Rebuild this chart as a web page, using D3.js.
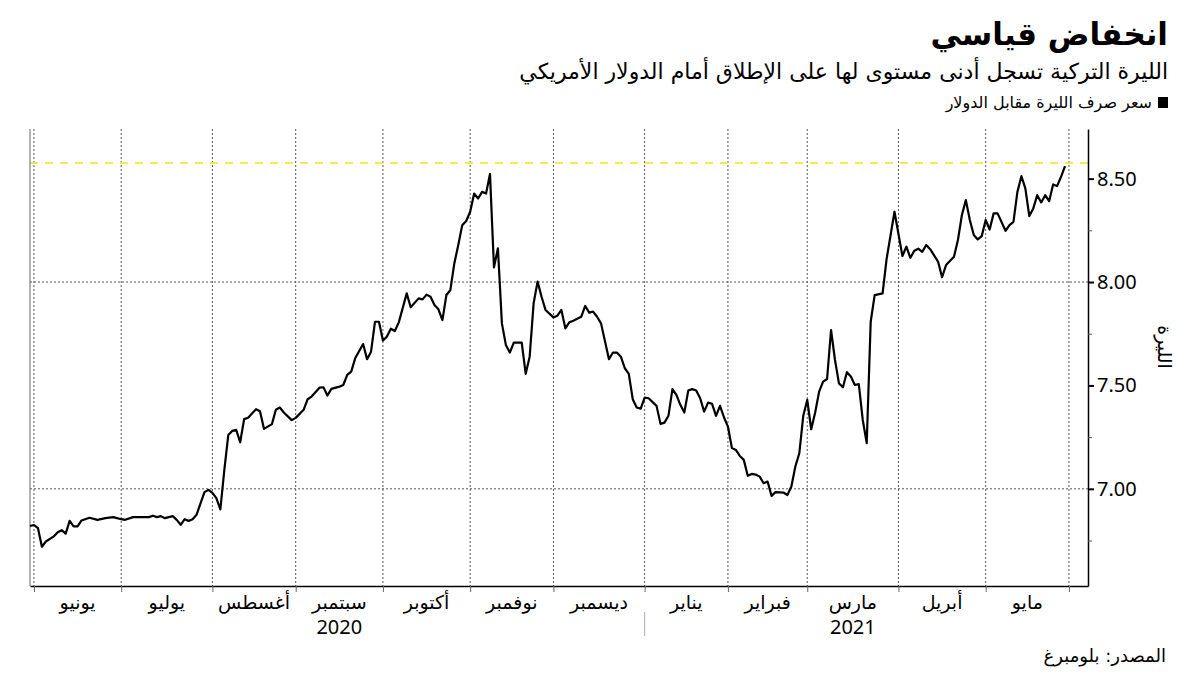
<!DOCTYPE html>
<html>
<head>
<meta charset="utf-8">
<script src="https://cdn.jsdelivr.net/npm/d3@7"></script>
<style>
body{margin:0;background:#fff;}
svg{display:block;}
text{font-family:"DejaVu Sans",sans-serif;fill:#000;}
.num{font-family:"Noto Sans",sans-serif;}
</style>
</head>
<body>
<svg id="chart" width="1200" height="675"></svg>
<script>
// lira per dollar, trading days (vertices)
var dates = [
 "2020-05-29",
 "2020-06-01","2020-06-02","2020-06-03","2020-06-04","2020-06-08","2020-06-09","2020-06-10","2020-06-11","2020-06-12","2020-06-15","2020-06-16","2020-06-17","2020-06-19","2020-06-23","2020-06-25","2020-06-29",
 "2020-07-01","2020-07-02","2020-07-06","2020-07-10","2020-07-13","2020-07-14","2020-07-15","2020-07-16","2020-07-20","2020-07-21","2020-07-22","2020-07-23","2020-07-24","2020-07-27","2020-07-28","2020-07-29","2020-07-30","2020-07-31",
 "2020-08-03","2020-08-04","2020-08-05","2020-08-06","2020-08-07","2020-08-10","2020-08-11","2020-08-12","2020-08-13","2020-08-14","2020-08-18","2020-08-19","2020-08-20","2020-08-24","2020-08-25","2020-08-26","2020-08-27","2020-08-31",
 "2020-09-01","2020-09-03","2020-09-04","2020-09-07","2020-09-09","2020-09-10","2020-09-11","2020-09-14","2020-09-16","2020-09-17","2020-09-18","2020-09-21","2020-09-22","2020-09-24","2020-09-25","2020-09-28","2020-09-29","2020-09-30",
 "2020-10-01","2020-10-02","2020-10-05","2020-10-06","2020-10-07","2020-10-09","2020-10-12","2020-10-14","2020-10-15","2020-10-16","2020-10-19","2020-10-20","2020-10-21","2020-10-22","2020-10-23","2020-10-26","2020-10-27","2020-10-28","2020-10-29","2020-10-30",
 "2020-11-02","2020-11-03","2020-11-04","2020-11-05","2020-11-06","2020-11-09","2020-11-10","2020-11-11","2020-11-12","2020-11-13","2020-11-16","2020-11-17","2020-11-19","2020-11-20","2020-11-23","2020-11-24","2020-11-25","2020-11-26","2020-11-27",
 "2020-12-01","2020-12-02","2020-12-03","2020-12-04","2020-12-07","2020-12-08","2020-12-10","2020-12-11","2020-12-14","2020-12-15","2020-12-16","2020-12-17","2020-12-21","2020-12-22","2020-12-23","2020-12-24","2020-12-25","2020-12-28","2020-12-29","2020-12-30","2020-12-31",
 "2021-01-01","2021-01-04","2021-01-06","2021-01-07","2021-01-08","2021-01-11","2021-01-12","2021-01-13","2021-01-14","2021-01-15","2021-01-18","2021-01-19","2021-01-20","2021-01-21","2021-01-22","2021-01-25","2021-01-26","2021-01-27","2021-01-28","2021-01-29",
 "2021-02-01","2021-02-02","2021-02-03","2021-02-04","2021-02-05","2021-02-08","2021-02-09","2021-02-10","2021-02-11","2021-02-12","2021-02-15","2021-02-16","2021-02-17","2021-02-19","2021-02-22","2021-02-23","2021-02-24","2021-02-25","2021-02-26",
 "2021-03-01","2021-03-02","2021-03-03","2021-03-04","2021-03-05","2021-03-08","2021-03-09","2021-03-10","2021-03-11","2021-03-12","2021-03-15","2021-03-16","2021-03-17","2021-03-18","2021-03-19","2021-03-22","2021-03-23","2021-03-24","2021-03-26","2021-03-29","2021-03-31",
 "2021-04-02","2021-04-05","2021-04-06","2021-04-07","2021-04-08","2021-04-09","2021-04-12","2021-04-13","2021-04-15","2021-04-16","2021-04-19","2021-04-21","2021-04-22","2021-04-23","2021-04-26","2021-04-27","2021-04-28","2021-04-29","2021-04-30",
 "2021-05-03","2021-05-04","2021-05-05","2021-05-06","2021-05-10","2021-05-11","2021-05-12","2021-05-13","2021-05-14","2021-05-17","2021-05-18","2021-05-19","2021-05-20","2021-05-21","2021-05-24","2021-05-25","2021-05-26","2021-05-27","2021-05-28","2021-05-31"
];
var rates = [
 6.82,
 6.825,6.81,6.72,6.745,6.77,6.79,6.80,6.783,6.845,6.818,6.818,6.847,6.86,6.85,6.858,6.863,
 6.853,6.85,6.863,6.863,6.87,6.863,6.868,6.858,6.868,6.85,6.826,6.853,6.845,6.853,6.874,6.93,6.984,6.995,
 6.98,6.955,6.90,7.09,7.26,7.28,7.285,7.225,7.337,7.344,7.385,7.375,7.29,7.313,7.382,7.393,7.369,7.332,
 7.343,7.382,7.433,7.446,7.489,7.491,7.451,7.483,7.494,7.502,7.551,7.567,7.631,7.70,7.627,7.663,7.808,7.808,
 7.717,7.736,7.774,7.763,7.805,7.945,7.878,7.921,7.916,7.939,7.929,7.889,7.868,7.816,7.937,7.961,8.09,8.179,8.275,8.295,
 8.34,8.428,8.404,8.436,8.428,8.522,8.071,8.163,7.80,7.696,7.659,7.707,7.707,7.556,7.639,7.897,8.002,7.929,7.865,
 7.829,7.837,7.865,7.776,7.805,7.813,7.832,7.885,7.852,7.857,7.832,7.80,7.627,7.659,7.659,7.639,7.583,7.556,7.433,7.393,7.388,
 7.441,7.438,7.401,7.314,7.32,7.353,7.482,7.454,7.406,7.369,7.475,7.482,7.475,7.438,7.373,7.417,7.411,7.353,7.401,7.346,
 7.301,7.197,7.188,7.159,7.14,7.063,7.072,7.069,7.059,7.027,7.035,6.966,6.984,6.982,6.97,7.011,7.108,7.172,7.353,
 7.43,7.288,7.369,7.47,7.518,7.531,7.768,7.623,7.51,7.491,7.564,7.543,7.502,7.506,7.333,7.221,7.808,7.937,7.945,8.11,8.34,
 8.126,8.171,8.117,8.151,8.161,8.146,8.179,8.159,8.098,8.023,8.082,8.122,8.203,8.324,8.396,8.30,8.227,8.206,8.222,
 8.30,8.254,8.332,8.332,8.248,8.275,8.291,8.436,8.512,8.453,8.319,8.356,8.42,8.385,8.42,8.391,8.472,8.464,8.509,8.56
];
var monthNames = ["يونيو","يوليو","أغسطس","سبتمبر","أكتوبر","نوفمبر","ديسمبر","يناير","فبراير","مارس","أبريل","مايو"];
var yearLabels = ["2020","2021"];
var yearMonth = [3, 9];      // month label each year sits under
var majorTicks = [7.0, 7.5, 8.0, 8.5];
var minorTicks = [6.75, 7.25, 7.75, 8.25];
var gridValues = [7.0, 8.0];
var recordLevel = 8.575;

var svg = d3.select("#chart");
var parse = d3.timeParse("%Y-%m-%d");
var start = parse(dates[0]);

// x axis counts weekdays only
function tradeIndex(d){
	return d3.timeDay.range(start, d).filter(function(t){ return t.getDay() % 6 !== 0; }).length;
}
var data = dates.map(function(s, i){ return {i: tradeIndex(parse(s)), v: rates[i]}; });

var monthStarts = d3.timeMonth.range(new Date(2020,5,1), new Date(2021,6,1)).map(function(m){
	var d = m;
	while(d.getDay() % 6 === 0){ d = d3.timeDay.offset(d, 1); }
	return tradeIndex(d);
});

var plotLeft = 30, plotRight = 1088, plotTop = 129, plotBottom = 586;
var x = d3.scaleLinear().domain([0, 266.8]).range([plotLeft, plotRight]);
var y = d3.scaleLinear().domain([6.53, 8.74]).range([plotBottom, plotTop]);

// grid
svg.selectAll(".hgrid").data(gridValues).enter().append("line")
	.attr("x1", plotLeft).attr("x2", plotRight)
	.attr("y1", function(d){ return y(d); }).attr("y2", function(d){ return y(d); })
	.attr("stroke", "#555").attr("stroke-width", 1).attr("stroke-dasharray", "2,2");
svg.selectAll(".vgrid").data(monthStarts).enter().append("line")
	.attr("x1", function(d){ return x(d); }).attr("x2", function(d){ return x(d); })
	.attr("y1", plotTop).attr("y2", plotBottom)
	.attr("stroke", "#555").attr("stroke-width", 1).attr("stroke-dasharray", "2,2");

// record level
svg.append("line")
	.attr("x1", plotLeft).attr("x2", plotRight)
	.attr("y1", y(recordLevel)).attr("y2", y(recordLevel))
	.attr("stroke", "#f3e21a").attr("stroke-width", 1.5).attr("stroke-dasharray", "8,7");

// left frame line
svg.append("line").attr("x1", plotLeft).attr("x2", plotLeft).attr("y1", plotTop).attr("y2", plotBottom)
	.attr("stroke", "#666").attr("stroke-width", 1);

// x axis
var xAxis = svg.append("g").attr("transform", "translate(0," + plotBottom + ")")
	.call(d3.axisBottom(x).tickValues(monthStarts).tickFormat("").tickSize(6).tickSizeOuter(0));
xAxis.select(".domain").attr("stroke", "#000").attr("stroke-width", 1.5);
xAxis.selectAll(".tick line").attr("stroke", "#666");

svg.selectAll(".month").data(monthNames).enter().append("text")
	.attr("x", function(d, i){ return (x(monthStarts[i]) + x(monthStarts[i+1])) / 2; })
	.attr("y", 609)
	.attr("text-anchor", "middle")
	.attr("font-size", 19)
	.text(function(d){ return d; });

svg.selectAll(".year").data(yearLabels).enter().append("text")
	.attr("class", "num")
	.attr("x", function(d, i){ var m = yearMonth[i]; return (x(monthStarts[m]) + x(monthStarts[m+1])) / 2; })
	.attr("y", 634)
	.attr("text-anchor", "middle")
	.attr("font-size", 20)
	.text(function(d){ return d; });

// year separator
svg.append("line")
	.attr("x1", x(monthStarts[7])).attr("x2", x(monthStarts[7]))
	.attr("y1", 612).attr("y2", 636)
	.attr("stroke", "#aaa").attr("stroke-width", 1);

// y axis on the right
var yAxis = svg.append("g").attr("transform", "translate(" + plotRight + ",0)")
	.call(d3.axisRight(y).tickValues(majorTicks).tickFormat(d3.format(".2f")).tickSize(6).tickPadding(3).tickSizeOuter(0));
yAxis.select(".domain").attr("stroke", "#000").attr("stroke-width", 1.5);
yAxis.selectAll(".tick line").attr("stroke", "#000").attr("stroke-width", 2);
yAxis.selectAll(".tick text").attr("class", "num").attr("font-size", 20).attr("fill", "#000");
var yMinor = svg.append("g").attr("transform", "translate(" + plotRight + ",0)")
	.call(d3.axisRight(y).tickValues(minorTicks).tickFormat("").tickSize(4));
yMinor.select(".domain").remove();
yMinor.selectAll(".tick line").attr("stroke", "#555");

svg.append("text")
	.attr("transform", "translate(1163,347) rotate(90)")
	.attr("text-anchor", "middle")
	.attr("dominant-baseline", "middle")
	.attr("font-size", 19)
	.text("الليرة");

// the line
var line = d3.line().x(function(d){ return x(d.i); }).y(function(d){ return y(d.v); });
svg.append("path").datum(data)
	.attr("d", line)
	.attr("fill", "none")
	.attr("stroke", "#000")
	.attr("stroke-width", 2.2)
	.attr("stroke-linejoin", "round");

// headings
svg.append("text").attr("x", 1168).attr("y", 45).attr("text-anchor", "end")
	.attr("font-size", 31).attr("font-weight", "bold")
	.text("انخفاض قياسي");
svg.append("text").attr("x", 1168).attr("y", 79).attr("text-anchor", "end")
	.attr("font-size", 22)
	.text("الليرة التركية تسجل أدنى مستوى لها على الإطلاق أمام الدولار الأمريكي");
svg.append("rect").attr("x", 1158).attr("y", 97).attr("width", 10).attr("height", 11).attr("fill", "#000");
svg.append("text").attr("x", 1152).attr("y", 108).attr("text-anchor", "end")
	.attr("font-size", 16)
	.text("سعر صرف الليرة مقابل الدولار");
svg.append("text").attr("x", 1166).attr("y", 662).attr("text-anchor", "end")
	.attr("font-size", 18)
	.text("المصدر: بلومبرغ");
</script>
</body>
</html>
